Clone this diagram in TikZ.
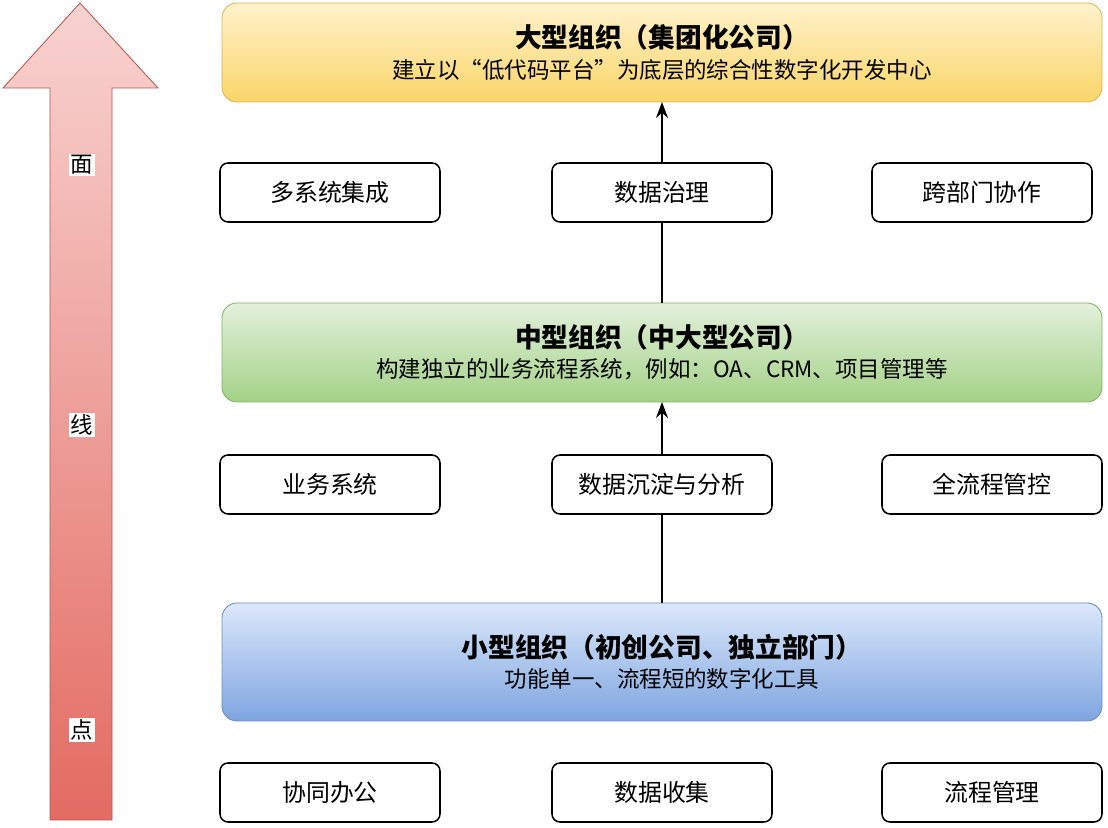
\documentclass[tikz,border=0pt]{standalone}
\usepackage{fontspec}
\setmainfont{Noto Sans CJK SC}
\usepackage{xcolor}
\usepackage{tikz}
\usetikzlibrary{positioning,arrows.meta}
\definecolor{orgyellowtop}{HTML}{FFF2CC}
\definecolor{orgyellowbot}{HTML}{FAD568}
\definecolor{orgyellowline}{HTML}{D6B656}
\definecolor{orggreentop}{HTML}{E3F0DC}
\definecolor{orggreenbot}{HTML}{A3D286}
\definecolor{orggreenline}{HTML}{82B366}
\definecolor{orgbluetop}{HTML}{DCE8FB}
\definecolor{orgbluebot}{HTML}{7EA5E0}
\definecolor{orgblueline}{HTML}{6C8EBF}
\definecolor{growtop}{HTML}{F8D3D1}
\definecolor{growbot}{HTML}{E36B62}
\definecolor{growline}{HTML}{B85450}

\begin{document}
\begin{tikzpicture}[
        tier/.style={rectangle, rounded corners=0.375cm, draw, line width=0.6pt, outer sep=0pt, align=center, minimum width=22cm, minimum height=2.475cm},
        item/.style={rectangle, rounded corners=0.2cm, draw=black, line width=1.1pt, outer sep=0pt, fill=white, align=center, minimum width=5.5cm, minimum height=1.475cm, font=\fontsize{17}{20}\selectfont},
        stage/.style={fill=white, inner sep=1pt, font=\fontsize{16}{18}\selectfont},
        arrow/.style={-{Stealth[length=0.4cm, width=0.3cm]}, line width=1.1pt},
        link/.style={line width=1.1pt}
    ]
        \useasboundingbox (0,0) rectangle (27.7,20.7);

        % growth arrow on the left
        \shade[top color=growtop, bottom color=growbot, draw=growline, line width=0.6pt]
            (1.25,0.2) -- (1.25,18.5) -- (0.075,18.5) -- (2.0,20.625) -- (3.95,18.5) -- (2.8,18.5) -- (2.8,0.2) -- cycle;
        \node[stage] (face) at (2.05,16.575) {面};
        \node[stage] (line) at (2.05,10.075) {线};
        \node[stage] (point) at (2.05,2.45) {点};

        % organisation tiers
        \node[tier, draw=orgyellowline, top color=orgyellowtop, bottom color=orgyellowbot] (large) at (16.55,19.3875)
            {{\fontsize{19}{22}\selectfont\bfseries 大型组织（集团化公司）}\\[5pt]{\fontsize{16}{20}\selectfont 建立以“低代码平台”为底层的综合性数字化开发中心}};
        \node[item, below=1.525cm of large] (govern) {数据治理};
        \node[item, left=2.8cm of govern] (integrate) {多系统集成};
        \node[item, right=2.5cm of govern] (crossdept) {跨部门协作};

        \node[tier, draw=orggreenline, top color=orggreentop, bottom color=orggreenbot, below=2.025cm of govern] (medium)
            {{\fontsize{19}{22}\selectfont\bfseries 中型组织（中大型公司）}\\[5pt]{\fontsize{16}{20}\selectfont 构建独立的业务流程系统，例如：OA、CRM、项目管理等}};
        \node[item, below=1.325cm of medium] (settle) {数据沉淀与分析};
        \node[item, left=2.8cm of settle] (business) {业务系统};
        \node[item, right=2.75cm of settle] (control) {全流程管控};

        \node[tier, draw=orgblueline, top color=orgbluetop, bottom color=orgbluebot, minimum height=2.95cm, below=2.225cm of settle] (small)
            {{\fontsize{19}{22}\selectfont\bfseries 小型组织（初创公司、独立部门）}\\[5pt]{\fontsize{16}{20}\selectfont 功能单一、流程短的数字化工具}};
        \node[item, below=1.05cm of small] (collect) {数据收集};
        \node[item, left=2.8cm of collect] (office) {协同办公};
        \node[item, right=2.75cm of collect] (process) {流程管理};

        \draw[link] (medium) -- (govern);
        \draw[arrow] (govern) -- (large);
        \draw[link] (small) -- (settle);
        \draw[arrow] (settle) -- (medium);
    \end{tikzpicture}
\end{document}
